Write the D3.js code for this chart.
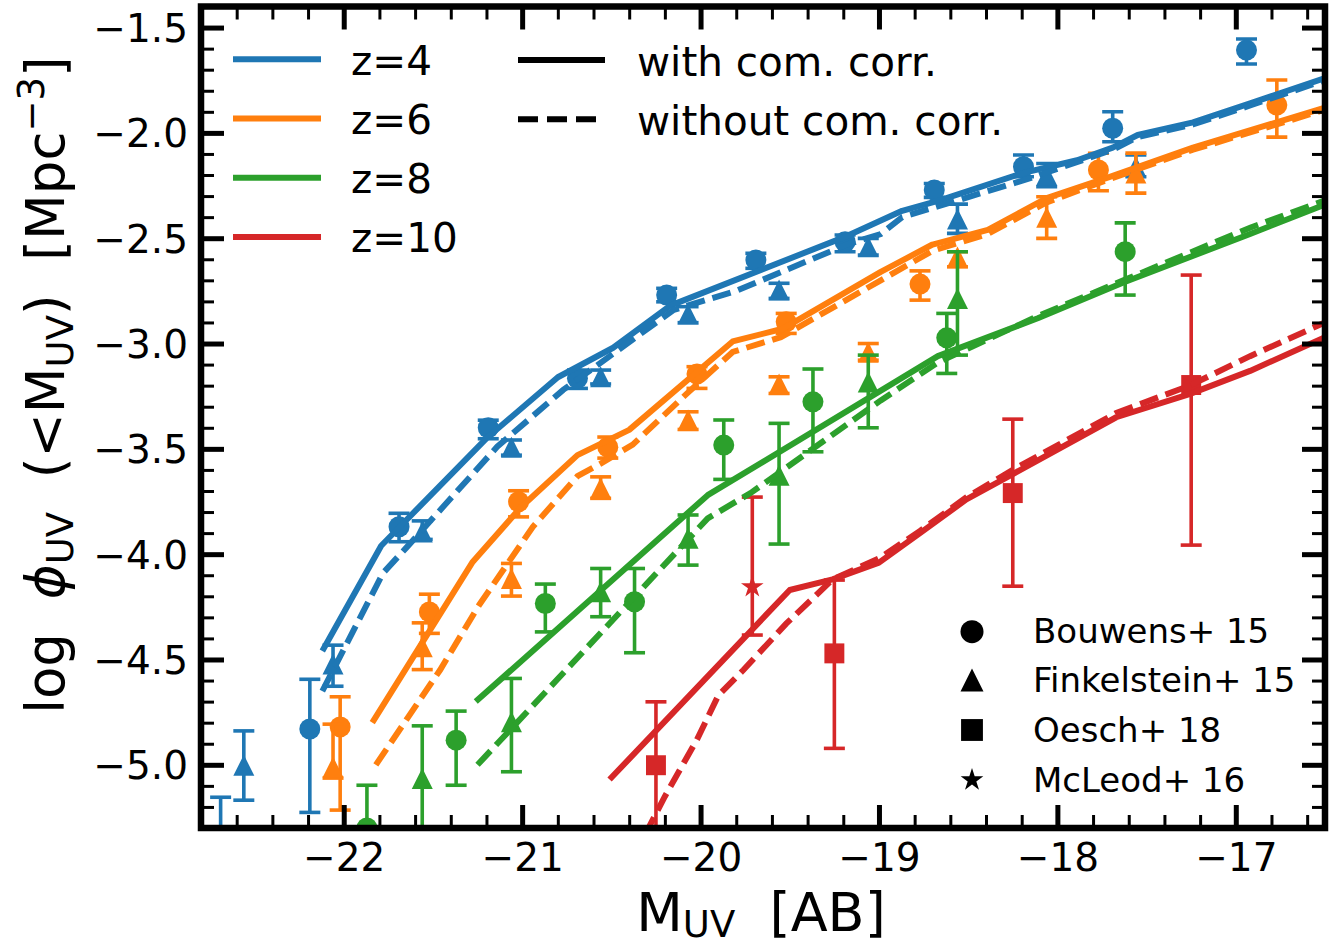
<!DOCTYPE html>
<html><head><meta charset="utf-8">
<script src="https://cdn.jsdelivr.net/npm/d3@7"></script>
<style>
html,body{margin:0;padding:0;background:#fff}
svg{display:block}
text{font-family:"DejaVu Sans",sans-serif;fill:#000}
</style>
</head><body>
<svg id="chart" width="1343" height="947"></svg>
<script>
// ---------------- DATA ----------------
const xTicks = [-22, -21, -20, -19, -18, -17];
const yTicks = [-1.5, -2.0, -2.5, -3.0, -3.5, -4.0, -4.5, -5.0];
const redshiftLabels = ["z=4", "z=6", "z=8", "z=10"];
const seriesColors = ["#1f77b4", "#ff7f0e", "#2ca02c", "#d62728"];
const styleLabels = ["with com. corr.", "without com. corr."];
const surveyLabels = ["Bouwens+ 15", "Finkelstein+ 15", "Oesch+ 18", "McLeod+ 16"];

// model curves: magnitude and log phi (with / without cosmic correction)
const m4With   = [-22.12,-21.79,-21.2,-20.8,-20.49,-20.17,-19.18,-18.87,-18.66,-18.19,-17.89,-17.69,-17.55,-17.24,-16.92,-16.5];
const phi4With = [-4.46,-3.96,-3.45,-3.16,-3.02,-2.82,-2.49,-2.37,-2.32,-2.19,-2.13,-2.07,-2.01,-1.95,-1.86,-1.74];
const m4Without   = [-22.12,-21.78,-21.65,-21.14,-20.77,-20.15,-19.8,-19.18,-18.99,-18.87,-18.17,-17.69,-17.55,-17.24,-16.92,-16.5];
const phi4Without = [-4.65,-4.09,-3.97,-3.49,-3.22,-2.84,-2.75,-2.53,-2.48,-2.40,-2.22,-2.08,-2.02,-1.96,-1.87,-1.75];

const m6With   = [-21.84,-21.28,-21.01,-20.69,-20.40,-19.82,-19.54,-18.99,-18.70,-18.39,-18.06,-17.71,-17.24,-16.5];
const phi6With = [-4.80,-4.04,-3.78,-3.53,-3.41,-2.99,-2.93,-2.66,-2.53,-2.46,-2.31,-2.21,-2.07,-1.88];
const m6Without   = [-21.82,-21.46,-21.24,-20.94,-20.69,-20.56,-20.38,-20.08,-19.82,-19.55,-18.99,-18.70,-18.39,-18.06,-17.71,-17.24,-16.5];
const phi6Without = [-5.00,-4.55,-4.24,-3.87,-3.63,-3.57,-3.48,-3.24,-3.04,-2.97,-2.70,-2.56,-2.48,-2.33,-2.22,-2.08,-1.89];

const m8With   = [-21.26,-19.96,-18.67,-18.11,-17.63,-16.92,-16.5];
const phi8With = [-4.70,-3.72,-3.06,-2.88,-2.71,-2.48,-2.34];
const m8Without   = [-21.25,-19.96,-19.72,-18.99,-18.67,-18.11,-17.63,-16.92,-16.5];
const phi8Without = [-5.00,-3.83,-3.71,-3.27,-3.09,-2.87,-2.70,-2.45,-2.32];

const m10With   = [-20.51,-19.50,-19.26,-19.00,-18.77,-18.51,-18.25,-17.67,-17.26,-16.92,-16.5];
const phi10With = [-5.07,-4.17,-4.12,-4.04,-3.90,-3.74,-3.62,-3.35,-3.24,-3.13,-2.97];
const m10Without   = [-20.31,-20.20,-20.02,-19.90,-19.76,-19.52,-19.26,-19.00,-18.77,-18.51,-18.25,-17.67,-17.26,-16.92,-16.5];
const phi10Without = [-5.33,-5.15,-4.88,-4.67,-4.55,-4.33,-4.12,-4.02,-3.89,-3.73,-3.60,-3.33,-3.20,-3.06,-2.90];

// observations: M, log phi, lower error, upper error
const bouwensZ4M   = [-22.69,-22.19,-21.69,-21.19,-20.69,-20.19,-19.69,-19.19,-18.69,-18.19,-17.69,-16.94];
const bouwensZ4Phi = [-5.45,-4.83,-3.87,-3.40,-3.165,-2.77,-2.604,-2.517,-2.271,-2.161,-1.978,-1.607];
const bouwensZ4Lo  = [0.35,0.396,0.071,0.052,0.048,0.032,0.039,0.047,0.035,0.047,0.064,0.066];
const bouwensZ4Hi  = [0.296,0.236,0.064,0.036,0.039,0.032,0.032,0.032,0.031,0.056,0.078,0.053];

const finkelsteinZ4M   = [-22.56,-22.06,-21.56,-21.06,-20.56,-20.07,-19.56,-19.06,-18.56,-18.06,-17.56];
const finkelsteinZ4Phi = [-5.002,-4.522,-3.895,-3.492,-3.158,-2.86,-2.746,-2.541,-2.409,-2.20,-2.161];
const finkelsteinZ4Lo  = [0.166,0.105,0.035,0.038,0.034,0.041,0.040,0.039,0.068,0.056,0.047];
const finkelsteinZ4Hi  = [0.163,0.090,0.053,0.034,0.032,0.035,0.032,0.040,0.071,0.055,0.056];

const bouwensZ6M   = [-22.02,-21.52,-21.02,-20.52,-20.02,-19.52,-18.77,-17.77,-16.77];
const bouwensZ6Phi = [-4.82,-4.274,-3.751,-3.492,-3.145,-2.897,-2.718,-2.176,-1.868];
const bouwensZ6Lo  = [0.395,0.102,0.072,0.052,0.068,0.055,0.076,0.099,0.152];
const bouwensZ6Hi  = [0.143,0.084,0.052,0.048,0.035,0.040,0.063,0.079,0.119];

const finkelsteinZ6M   = [-22.06,-21.56,-21.06,-20.56,-20.07,-19.56,-19.06,-18.56,-18.06,-17.56];
const finkelsteinZ6Phi = [-5.011,-4.44,-4.115,-3.686,-3.363,-3.192,-3.041,-2.589,-2.40,-2.19];
const finkelsteinZ6Lo  = [0.052,0.108,0.084,0.049,0.045,0.045,0.038,0.047,0.101,0.096];
const finkelsteinZ6Hi  = [0.204,0.114,0.071,0.053,0.039,0.034,0.041,0.025,0.097,0.094];

const bouwensZ8M   = [-21.87,-21.37,-20.87,-20.37,-19.87,-19.37,-18.62,-17.62];
const bouwensZ8Phi = [-5.30,-4.883,-4.234,-4.226,-3.482,-3.277,-2.973,-2.564];
const bouwensZ8Lo  = [0.30,0.214,0.135,0.242,0.163,0.237,0.169,0.206];
const bouwensZ8Hi  = [0.203,0.138,0.092,0.158,0.119,0.156,0.116,0.137];

const finkelsteinZ8M   = [-21.56,-21.06,-20.56,-20.07,-19.56,-19.06,-18.56];
const finkelsteinZ8Phi = [-5.065,-4.796,-4.179,-3.925,-3.625,-3.183,-2.786];
const finkelsteinZ8Lo  = [0.60,0.237,0.118,0.127,0.327,0.217,0.269];
const finkelsteinZ8Hi  = [0.25,0.206,0.111,0.111,0.246,0.128,0.222];

const oeschZ10M   = [-20.25,-19.25,-18.25,-17.25];
const oeschZ10Phi = [-5.002,-4.471,-3.71,-3.197];
const oeschZ10Lo  = [0.60,0.451,0.442,0.76];
const oeschZ10Hi  = [0.301,0.348,0.351,0.522];

const mcleodZ10M   = [-19.71];
const mcleodZ10Phi = [-4.155];
const mcleodZ10Lo  = [0.229];
const mcleodZ10Hi  = [0.426];

// ---------------- CHART ----------------
const svg = d3.select("#chart");
const L = 201, T = 6.5, R = 1325, B = 828;
const x = d3.scaleLinear().domain([-22.8, -16.5]).range([L, R]);
const y = d3.scaleLinear().domain([-5.3, -1.4]).range([B, T]);

svg.append("defs").append("clipPath").attr("id", "plotclip")
  .append("rect").attr("x", L).attr("y", T).attr("width", R - L).attr("height", B - T);

const plot = svg.append("g").attr("clip-path", "url(#plotclip)");

// observations
function markerPath(shape, s) {
  if (shape === "circle") return d3.symbol(d3.symbolCircle, Math.PI * s * s)();
  if (shape === "triangle") return `M0,${-s}L${s},${s}L${-s},${s}Z`;
  if (shape === "square") return `M${-s*0.95},${-s*0.95}H${s*0.95}V${s*0.95}H${-s*0.95}Z`;
  if (shape === "star") return d3.symbol(d3.symbolStar, s * s * 2.2)();
}
function drawObs(ms, ps, lo, hi, color, shape, size) {
  const rows = ms.map((m, i) => ({m, p: ps[i], lo: lo[i], hi: hi[i]}));
  const g = plot.append("g");
  const cap = 10.5;
  rows.forEach(d => {
    const cx = x(d.m);
    const y1 = y(d.p + d.hi), y2 = y(d.p - d.lo);
    g.append("line").attr("x1", cx).attr("x2", cx).attr("y1", y1).attr("y2", y2)
      .attr("stroke", color).attr("stroke-width", 3.6);
    [y1, y2].forEach(yy => g.append("line").attr("x1", cx - cap).attr("x2", cx + cap)
      .attr("y1", yy).attr("y2", yy).attr("stroke", color).attr("stroke-width", 3.6));
    g.append("path").attr("d", markerPath(shape, size))
      .attr("transform", `translate(${cx},${y(d.p)})`).attr("fill", color);
  });
}
drawObs(bouwensZ4M, bouwensZ4Phi, bouwensZ4Lo, bouwensZ4Hi, seriesColors[0], "circle", 10.5);
drawObs(finkelsteinZ4M, finkelsteinZ4Phi, finkelsteinZ4Lo, finkelsteinZ4Hi, seriesColors[0], "triangle", 10.5);
drawObs(bouwensZ6M, bouwensZ6Phi, bouwensZ6Lo, bouwensZ6Hi, seriesColors[1], "circle", 10.5);
drawObs(finkelsteinZ6M, finkelsteinZ6Phi, finkelsteinZ6Lo, finkelsteinZ6Hi, seriesColors[1], "triangle", 10.5);
drawObs(bouwensZ8M, bouwensZ8Phi, bouwensZ8Lo, bouwensZ8Hi, seriesColors[2], "circle", 10.5);
drawObs(finkelsteinZ8M, finkelsteinZ8Phi, finkelsteinZ8Lo, finkelsteinZ8Hi, seriesColors[2], "triangle", 10.5);
drawObs(oeschZ10M, oeschZ10Phi, oeschZ10Lo, oeschZ10Hi, seriesColors[3], "square", 10.5);
drawObs(mcleodZ10M, mcleodZ10Phi, mcleodZ10Lo, mcleodZ10Hi, seriesColors[3], "star", 8.5);

// model lines
const line = d3.line().x(d => x(d[0])).y(d => y(d[1]));
const models = [
  [m4With, phi4With, m4Without, phi4Without],
  [m6With, phi6With, m6Without, phi6Without],
  [m8With, phi8With, m8Without, phi8Without],
  [m10With, phi10With, m10Without, phi10Without]
];
models.forEach((mm, i) => {
  plot.append("path").datum(mm[0].map((m, k) => [m, mm[1][k]]))
    .attr("d", line).attr("fill", "none").attr("stroke", seriesColors[i])
    .attr("stroke-width", 6).attr("stroke-linejoin", "round");
  plot.append("path").datum(mm[2].map((m, k) => [m, mm[3][k]]))
    .attr("d", line).attr("fill", "none").attr("stroke", seriesColors[i])
    .attr("stroke-width", 6).attr("stroke-dasharray", "19,8");
});

// axes (inward ticks on all sides)
const tickFont = 39;
function styleAxis(g) {
  g.select(".domain").remove();
  g.selectAll(".tick line").attr("stroke", "#000");
}
const minorX = d3.range(-22.8, -16.49, 0.2).filter(v => Math.abs(v - Math.round(v)) > 0.01);
const minorY = d3.range(-5.3, -1.39, 0.1).filter(v => Math.abs(v * 2 - Math.round(v * 2)) > 0.01);

[[B, d3.axisBottom], [T, d3.axisTop]].forEach(([pos, ax], idx) => {
  const gMaj = svg.append("g").attr("transform", `translate(0,${pos})`)
    .call(ax(x).tickValues(xTicks).tickSize(-23).tickPadding(idx === 0 ? 14 : 0)
      .tickFormat(idx === 0 ? (d => d3.format(".0f")(d).replace("-", "\u2212")) : ""));
  styleAxis(gMaj);
  gMaj.selectAll(".tick line").attr("stroke-width", 5);
  const gMin = svg.append("g").attr("transform", `translate(0,${pos})`)
    .call(ax(x).tickValues(minorX).tickSize(-13).tickFormat(""));
  styleAxis(gMin);
  gMin.selectAll(".tick line").attr("stroke-width", 3);
  if (idx === 0) {
    gMaj.selectAll(".tick text").attr("font-size", tickFont).attr("font-family", "DejaVu Sans")
      .attr("fill", "#000").attr("dy", null).attr("y", 871 - B);
  }
});
[[L, d3.axisLeft], [R, d3.axisRight]].forEach(([pos, ax], idx) => {
  const gMaj = svg.append("g").attr("transform", `translate(${pos},0)`)
    .call(ax(y).tickValues(yTicks).tickSize(-23).tickPadding(idx === 0 ? 13 : 0)
      .tickFormat(idx === 0 ? (d => d3.format(".1f")(d).replace("-", "\u2212")) : ""));
  styleAxis(gMaj);
  gMaj.selectAll(".tick line").attr("stroke-width", 5);
  const gMin = svg.append("g").attr("transform", `translate(${pos},0)`)
    .call(ax(y).tickValues(minorY).tickSize(-13).tickFormat(""));
  styleAxis(gMin);
  gMin.selectAll(".tick line").attr("stroke-width", 3);
  if (idx === 0) {
    gMaj.selectAll(".tick text").attr("font-size", tickFont).attr("font-family", "DejaVu Sans")
      .attr("fill", "#000").attr("dy", "0.36em");
  }
});

// frame
svg.append("rect").attr("x", L).attr("y", T).attr("width", R - L).attr("height", B - T)
  .attr("fill", "none").attr("stroke", "#000").attr("stroke-width", 6.5);

// axis labels
const xl = svg.append("text").attr("x", 761).attr("y", 931).attr("text-anchor", "middle")
  .attr("font-size", 54).attr("xml:space", "preserve");
xl.append("tspan").text("M");
xl.append("tspan").text("UV").attr("font-size", 37).attr("dy", 6);
xl.append("tspan").text("  [AB]").attr("dy", -6);

const yl = svg.append("text").attr("transform", "translate(64,385) rotate(-90)")
  .attr("text-anchor", "middle").attr("font-size", 53).attr("xml:space", "preserve");
yl.append("tspan").text("log  ");
yl.append("tspan").text("\u03D5").attr("font-style", "italic");
yl.append("tspan").text("UV").attr("font-size", 37).attr("dy", 9);
yl.append("tspan").text("  (<M").attr("dy", -9);
yl.append("tspan").text("UV").attr("font-size", 37).attr("dy", 9);
yl.append("tspan").text(")  [Mpc").attr("dy", -9);
yl.append("tspan").text("\u22123").attr("font-size", 37).attr("dy", -20);
yl.append("tspan").text("]").attr("dy", 20);

// legend 1: redshift colours
const lg1 = svg.append("g");
redshiftLabels.forEach((lab, i) => {
  const yy = 59.3 + i * 59.2;
  lg1.append("line").attr("x1", 233).attr("x2", 321).attr("y1", yy).attr("y2", yy)
    .attr("stroke", seriesColors[i]).attr("stroke-width", 6);
  lg1.append("text").attr("x", 351).attr("y", yy + 15.5).attr("font-size", 40.5).text(lab);
});
// legend 2: line styles
styleLabels.forEach((lab, i) => {
  const yy = 60 + i * 59.2;
  lg1.append("line").attr("x1", 518).attr("x2", 605).attr("y1", yy).attr("y2", yy)
    .attr("stroke", "#000").attr("stroke-width", 6)
    .attr("stroke-dasharray", i === 1 ? "20,9" : null);
  lg1.append("text").attr("x", 637).attr("y", yy + 15.5).attr("font-size", 40.5).text(lab);
});
// legend 3: surveys
const shapes = ["circle", "triangle", "square", "star"];
surveyLabels.forEach((lab, i) => {
  const yy = [631.7, 680, 730, 780][i];
  lg1.append("path").attr("d", markerPath(shapes[i], i === 3 ? 8.5 : 11.5))
    .attr("transform", `translate(972,${yy})`).attr("fill", "#000");
  lg1.append("text").attr("x", 1033).attr("y", yy + 11.7).attr("font-size", 34).text(lab);
});
</script>
</body></html>
